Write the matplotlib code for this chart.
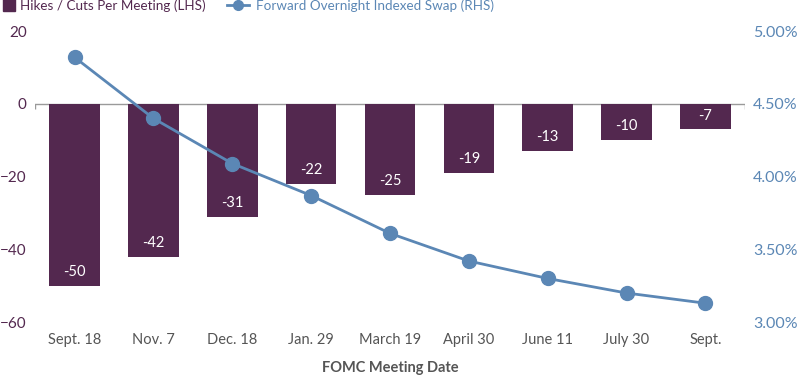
import matplotlib.pyplot as plt
from matplotlib.lines import Line2D

plt.rcParams['font.family'] = ['Lato', 'DejaVu Sans']

meetings = ["Sept. 18", "Nov. 7", "Dec. 18", "Jan. 29", "March 19",
            "April 30", "June 11", "July 30", "Sept."]
cuts = [-50, -42, -31, -22, -25, -19, -13, -10, -7]
ois = [4.82, 4.40, 4.09, 3.87, 3.61, 3.42, 3.30, 3.20, 3.13]

purple = '#53284f'
blue = '#5b87b5'
gray = '#555555'

fig = plt.figure(figsize=(8, 3.75), dpi=100)
ax = fig.add_axes([0.044, 0.141, 0.887, 0.776])
ax2 = ax.twinx()

x = range(len(meetings))
ax.bar(x, cuts, width=0.64, color=purple, zorder=2)
for i, v in enumerate(cuts):
    ax.text(i, v + 3.8, str(v), ha='center', va='center', color='white',
            fontsize=10.5, zorder=3)

ax.axhline(0, color='#9a9a9a', lw=1, zorder=1)
ax.vlines([-0.5, 8.5], -1.5, 0, color='#9a9a9a', lw=1)

ax.set_xlim(-0.5, 8.5)
ax.set_ylim(-60, 20)
ax.set_yticks([-60, -40, -20, 0, 20])
ax.set_xticks(list(x))
ax.set_xticklabels(meetings)
ax.tick_params(axis='y', colors=purple, labelsize=11, length=0, pad=6)
ax.tick_params(axis='x', colors=gray, labelsize=10.5, length=0, pad=8)
ax.set_xlabel("FOMC Meeting Date", color=gray, fontsize=10.5,
              fontweight='bold', labelpad=10)

ax2.plot(list(x), ois, color=blue, lw=2, marker='o', markersize=10, zorder=4)
ax2.set_ylim(3.0, 5.0)
ax2.set_yticks([3.0, 3.5, 4.0, 4.5, 5.0])
ax2.set_yticklabels([f"{v:.2f}%" for v in [3.0, 3.5, 4.0, 4.5, 5.0]])
ax2.tick_params(axis='y', colors=blue, labelsize=11.5, length=0, pad=6)

for a in (ax, ax2):
    for s in a.spines.values():
        s.set_visible(False)

sq = Line2D([0], [0], color=purple, marker='s', markersize=8, linestyle='none')
ln = Line2D([0], [0], color=blue, lw=2, marker='o', markersize=7)
fig.legend([sq], ["Hikes / Cuts Per Meeting (LHS)"], loc='upper left',
           bbox_to_anchor=(-0.012, 1.035), frameon=False, fontsize=9.7,
           labelcolor=purple, handlelength=1.0, handletextpad=0.3)
fig.legend([ln], ["Forward Overnight Indexed Swap (RHS)"], loc='upper left',
           bbox_to_anchor=(0.268, 1.035), frameon=False, fontsize=9.7,
           labelcolor=blue, handlelength=1.7, handletextpad=0.5)

fig.savefig("out.png", dpi=100)
